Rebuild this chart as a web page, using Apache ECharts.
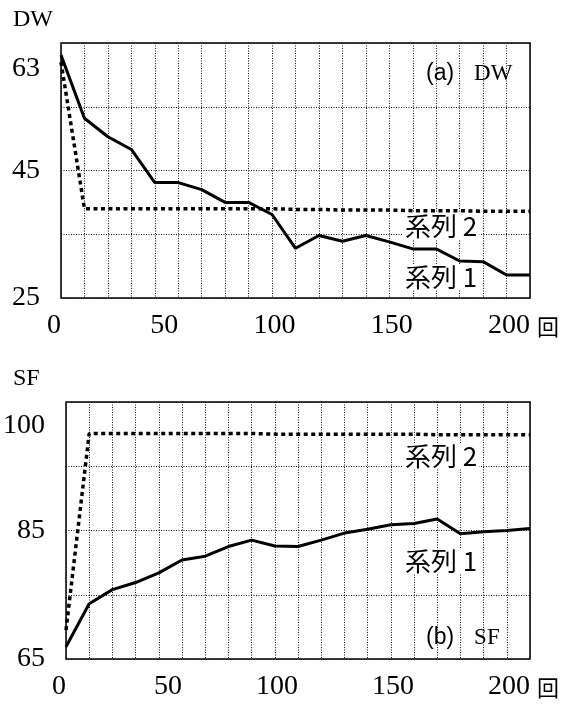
<!DOCTYPE html>
<html><head><meta charset="utf-8">
<script src="https://cdn.jsdelivr.net/npm/echarts@6/dist/echarts.min.js"></script>
<style>html,body{margin:0;padding:0;background:#fff}#c{width:570px;height:704px}</style>
</head><body><div id="c"></div>
<script>
// x positions (回)
const steps = [0,10,20,30,40,50,60,70,80,90,100,110,120,130,140,150,160,170,180,190,200];
// (a) DW
const dwSeries1 = [63.1,53.2,50.3,48.3,43.1,43.1,42.0,40.0,40.0,38.1,32.8,34.8,33.9,34.8,33.8,32.7,32.7,30.8,30.7,28.6,28.6];
const dwSeries2 = [62.0,39.0,39.0,39.0,39.0,39.0,39.0,39.0,39.0,39.0,38.9,38.9,38.8,38.8,38.8,38.7,38.7,38.7,38.6,38.6,38.6];
// (b) SF
const sfSeries1 = [66.9,73.6,75.8,76.9,78.4,80.4,81.0,82.5,83.5,82.6,82.5,83.5,84.6,85.2,85.9,86.1,86.8,84.5,84.8,85.0,85.3];
const sfSeries2 = [69.5,100.1,100.1,100.1,100.1,100.1,100.1,100.1,100.1,100.0,100.0,100.0,100.0,100.0,100.0,100.0,99.9,99.9,99.9,99.9,99.9];
// tick labels
const xTickLabels = [0,50,100,150,200];
const dwTickLabels = [25,45,63];
const sfTickLabels = [65,85,100];

const chart = echarts.init(document.getElementById('c'), null, {renderer:'canvas'});
const serif = "'Liberation Serif', 'Noto Sans CJK JP', serif";
const pairs = v => steps.map((x,i)=>[x,v[i]]);
const gridLine = {show:true, lineStyle:{color:'#111', width:1, type:[1,1.5]}};

function xAx(gi){
  return {type:'value', gridIndex:gi, min:0, max:200, interval:10,
    axisLine:{show:false}, axisTick:{show:false}, splitLine:gridLine,
    axisLabel:{formatter:v => xTickLabels.indexOf(v) >= 0 ? String(v) : '',
      color:'#000', fontFamily:serif, fontSize:28, align:'right', margin:14}};
}
// the top label of each panel sits a little off its value in the reference
function yAx(gi, min, max, labels, shifted, pad){
  return {type:'value', gridIndex:gi, min:min, max:max, interval:10,
    axisLine:{show:false}, axisTick:{show:false}, splitLine:gridLine,
    axisLabel:{customValues:labels, color:'#000', fontFamily:serif, fontSize:28, margin:21,
      formatter:v => v === shifted ? '{s|'+v+'}' : String(v),
      rich:{s:{fontFamily:serif, fontSize:28, color:'#000', padding:pad}}}};
}
function line(gi, data, dotted){
  return {type:'line', xAxisIndex:gi, yAxisIndex:gi, data:pairs(data), symbol:'none',
    lineStyle:{color:'#000', width: dotted ? 3.5 : 3, type: dotted ? [4,3.5] : 'solid'}, z: dotted?3:4};
}
function txt(x, y, text, font){
  return {type:'text', x:x, y:y, z:100,
    style:{text:text, fill:'#000', font:font, textVerticalAlign:'middle'}};
}
function seriesTag(x, y, text){
  return {type:'text', x:x, y:y, z:100,
    style:{text:text, fill:'#000', font:"26px 'Noto Sans CJK JP', serif", textVerticalAlign:'middle',
      backgroundColor:'#fff', padding:[0,2,0,2]}};
}
function panelTag(x, y, p, n){
  return {type:'text', x:x, y:y, z:100,
    style:{text:'{p|'+p+'}{g| }{n|'+n+'}', textVerticalAlign:'middle', fill:'#000',
      rich:{p:{fontFamily:"'Liberation Sans', sans-serif", fontSize:23, fill:'#000'},
            g:{fontSize:23, width:20},
            n:{fontFamily:serif, fontSize:23, fill:'#000'}}}};
}

chart.setOption({
  animation:false,
  backgroundColor:'#fff',
  grid:[
    {left:61, top:43, width:469, height:255, show:true, borderColor:'#000', borderWidth:1.5},
    {left:61, top:402, width:469, height:257, show:true, borderColor:'#000', borderWidth:1.5}
  ],
  xAxis:[xAx(0), xAx(1)],
  yAxis:[yAx(0,25,65,dwTickLabels,63,[26,0,0,0]), yAx(1,65,105,sfTickLabels,100,[0,0,16,0])],
  series:[line(0,dwSeries1,false), line(0,dwSeries2,true), line(1,sfSeries1,false), line(1,sfSeries2,true)],
  graphic:[
    txt(13, 20, 'DW', "24px "+serif),
    txt(13, 379, 'SF', "24px "+serif),
    txt(537, 327, '回', "22px 'Noto Sans CJK JP'"),
    txt(537, 688, '回', "22px 'Noto Sans CJK JP'"),
    panelTag(426, 74, '(a)', 'DW'),
    panelTag(426, 638, '(b)', 'SF'),
    seriesTag(403, 226, '系列 2'),
    seriesTag(403, 277, '系列 1'),
    seriesTag(403, 456, '系列 2'),
    seriesTag(403, 561, '系列 1')
  ]
});
</script></body></html>
